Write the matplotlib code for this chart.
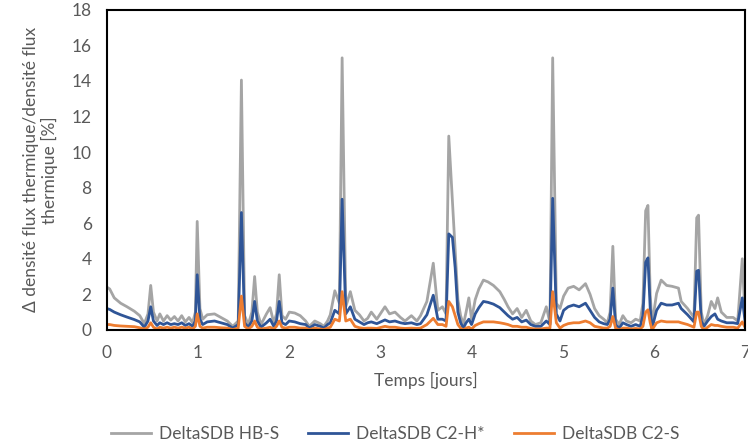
import numpy as np
import matplotlib.pyplot as plt

plt.rcParams['font.family'] = ['Lato', 'DejaVu Sans']

# time [days] and the three series [%]
t = [0.00, 0.03, 0.08, 0.15, 0.22, 0.30, 0.36, 0.41, 0.45, 0.48, 0.51, 0.55, 0.58, 0.62,
     0.66, 0.70, 0.74, 0.78, 0.82, 0.86, 0.90, 0.94, 0.97, 0.99, 1.02, 1.05, 1.10, 1.18,
     1.25, 1.32, 1.38, 1.44, 1.475, 1.51, 1.55, 1.59, 1.62, 1.65, 1.69, 1.75, 1.79, 1.83,
     1.86, 1.89, 1.92, 1.96, 2.00, 2.06, 2.12, 2.18, 2.22, 2.28, 2.34, 2.38, 2.42, 2.45,
     2.50, 2.55, 2.58, 2.62, 2.67, 2.72, 2.77, 2.82, 2.86, 2.90, 2.96, 3.05, 3.10, 3.16,
     3.22, 3.27, 3.34, 3.40, 3.44, 3.51, 3.58, 3.63, 3.68, 3.72, 3.75, 3.79, 3.82, 3.85,
     3.88, 3.91, 3.94, 3.97, 4.00, 4.04, 4.08, 4.13, 4.18, 4.24, 4.31, 4.36, 4.40, 4.45,
     4.50, 4.55, 4.60, 4.65, 4.70, 4.76, 4.82, 4.86, 4.89, 4.93, 4.97, 5.01, 5.06, 5.12,
     5.18, 5.25, 5.30, 5.35, 5.40, 5.45, 5.49, 5.52, 5.55, 5.58, 5.62, 5.66, 5.70, 5.75,
     5.80, 5.85, 5.88, 5.91, 5.935, 5.96, 5.98, 6.03, 6.08, 6.14, 6.20, 6.27, 6.30, 6.37,
     6.44, 6.47, 6.49, 6.52, 6.55, 6.59, 6.63, 6.67, 6.70, 6.74, 6.80, 6.87, 6.92, 6.97,
     7.00]

hb_s = [2.4, 2.3, 1.8, 1.5, 1.3, 1.05, 0.8, 0.35, 0.9, 2.5, 1.0, 0.5, 0.9, 0.5,
        0.8, 0.55, 0.75, 0.5, 0.8, 0.45, 0.7, 0.4, 1.0, 6.1, 1.2, 0.6, 0.85, 0.9,
        0.7, 0.5, 0.2, 0.5, 14.05, 0.8, 0.3, 1.0, 3.0, 1.0, 0.3, 0.9, 1.25, 0.4,
        0.9, 3.1, 0.8, 0.6, 1.0, 0.95, 0.8, 0.5, 0.2, 0.5, 0.35, 0.2, 0.5, 0.85,
        2.2, 1.5, 15.3, 1.3, 2.15, 1.1, 0.85, 0.5, 0.65, 1.0, 0.6, 1.3, 0.9, 1.0,
        0.7, 0.5, 0.8, 0.5, 0.8, 1.6, 3.75, 1.1, 1.3, 0.9, 10.9, 7.3, 4.5, 1.7,
        0.8, 0.3, 1.0, 1.8, 0.6, 1.7, 2.3, 2.8, 2.7, 2.5, 2.15, 1.7, 1.3, 0.9,
        1.2, 0.7, 1.1, 0.5, 0.3, 0.4, 1.3, 0.4, 15.3, 1.5, 1.2, 1.9, 2.35, 2.45,
        2.25, 2.6, 2.0, 1.2, 0.8, 0.6, 0.4, 1.0, 4.7, 0.6, 0.3, 0.8, 0.5, 0.4,
        0.6, 0.5, 1.5, 6.7, 7.0, 2.0, 0.3, 2.05, 2.8, 2.5, 2.45, 2.35, 1.6, 1.2,
        0.7, 6.3, 6.45, 1.0, 0.3, 0.8, 1.6, 1.2, 1.8, 1.0, 0.7, 0.7, 0.5, 4.0,
        0.8]

c2_h = [1.2, 1.15, 1.0, 0.85, 0.72, 0.58, 0.45, 0.15, 0.5, 1.3, 0.5, 0.25, 0.4, 0.3,
        0.4, 0.3, 0.35, 0.3, 0.4, 0.25, 0.35, 0.2, 0.5, 3.1, 0.6, 0.3, 0.45, 0.5,
        0.4, 0.3, 0.1, 0.3, 6.6, 0.4, 0.15, 0.5, 1.6, 0.5, 0.15, 0.4, 0.6, 0.2,
        0.5, 1.6, 0.4, 0.3, 0.5, 0.45, 0.35, 0.3, 0.1, 0.3, 0.2, 0.1, 0.3, 0.4,
        1.1, 0.9, 7.35, 0.9, 1.3, 0.6, 0.45, 0.3, 0.4, 0.45, 0.35, 0.56, 0.45, 0.5,
        0.4, 0.35, 0.4, 0.3, 0.35, 0.85, 1.95, 0.6, 0.6, 0.5, 5.4, 5.2, 3.5, 1.0,
        0.4, 0.1, 0.4, 0.6, 0.3, 0.9, 1.25, 1.6, 1.55, 1.45, 1.25, 1.0, 0.8, 0.6,
        0.7, 0.45, 0.55, 0.3, 0.2, 0.2, 0.5, 0.3, 7.4, 0.9, 0.5, 1.1, 1.3, 1.4,
        1.3, 1.5, 1.1, 0.7, 0.45, 0.35, 0.3, 0.6, 2.35, 0.3, 0.1, 0.4, 0.3, 0.2,
        0.3, 0.2, 0.8, 3.8, 4.05, 1.2, 0.1, 1.1, 1.5, 1.4, 1.4, 1.5, 1.2, 0.85,
        0.45, 3.3, 3.35, 0.5, 0.2, 0.5, 0.75, 0.9, 0.6, 0.5, 0.4, 0.4, 0.35, 1.8,
        0.5]

c2_s = [0.3, 0.3, 0.25, 0.22, 0.2, 0.18, 0.12, 0.05, 0.15, 0.4, 0.15, 0.05, 0.15, 0.1,
        0.15, 0.1, 0.15, 0.1, 0.15, 0.1, 0.15, 0.05, 0.2, 0.9, 0.2, 0.1, 0.15, 0.15,
        0.12, 0.1, 0.02, 0.1, 1.9, 0.2, 0.05, 0.2, 0.5, 0.15, 0.05, 0.1, 0.15, 0.05,
        0.2, 0.5, 0.15, 0.1, 0.15, 0.15, 0.1, 0.1, 0.02, 0.1, 0.05, 0.02, 0.1, 0.15,
        0.6, 0.5, 2.15, 0.5, 0.6, 0.2, 0.12, 0.08, 0.1, 0.1, 0.08, 0.2, 0.15, 0.15,
        0.1, 0.08, 0.1, 0.08, 0.1, 0.3, 0.65, 0.3, 0.3, 0.2, 1.6, 1.3, 0.8, 0.3,
        0.1, 0.0, 0.1, 0.15, 0.05, 0.25, 0.35, 0.45, 0.45, 0.45, 0.4, 0.35, 0.3, 0.2,
        0.2, 0.15, 0.15, 0.08, 0.05, 0.05, 0.1, 0.1, 2.15, 0.4, 0.1, 0.25, 0.35, 0.4,
        0.4, 0.5, 0.4, 0.2, 0.15, 0.1, 0.1, 0.2, 0.75, 0.1, 0.0, 0.1, 0.1, 0.05,
        0.08, 0.05, 0.2, 1.0, 1.13, 0.4, 0.0, 0.4, 0.5, 0.45, 0.45, 0.45, 0.4, 0.3,
        0.15, 1.0, 1.0, 0.2, 0.0, 0.15, 0.3, 0.25, 0.25, 0.2, 0.15, 0.15, 0.1, 0.45,
        0.15]

labels = ["DeltaSDB HB-S", "DeltaSDB C2-H*", "DeltaSDB C2-S"]
colors = ["#A5A5A5", "#2F5597", "#ED7D31"]

fig = plt.figure(figsize=(7.48, 4.47), dpi=100)
ax = fig.add_axes([0.143, 0.262, 0.853, 0.716])

for y, lab, c in zip([hb_s, c2_h, c2_s], labels, colors):
    ax.plot(t, y, color=c, lw=2.0, label=lab, solid_joinstyle='round')

ax.set_xlim(0, 7)
ax.set_ylim(0, 18)
ax.set_xticks(range(0, 8))
ax.set_yticks(range(0, 19, 2))
ax.tick_params(length=0, labelsize=12.5, labelcolor="#595959", pad=11)
for s in ax.spines.values():
    s.set_color("black")
    s.set_linewidth(1.5)

ax.set_xlabel("Temps [jours]", fontsize=12.5, color="#595959", labelpad=8)
ax.set_ylabel("Δ densité flux thermique/densité flux\nthermique [%]", fontsize=12.5,
              color="#595959", labelpad=10, linespacing=1.1)

fig.legend(loc="center", bbox_to_anchor=(0.528, 0.028), ncol=3, frameon=False,
           fontsize=12.5, handlelength=2.3, handletextpad=0.45, columnspacing=1.7,
           labelcolor="#595959")

fig.savefig("out.png", dpi=100)
